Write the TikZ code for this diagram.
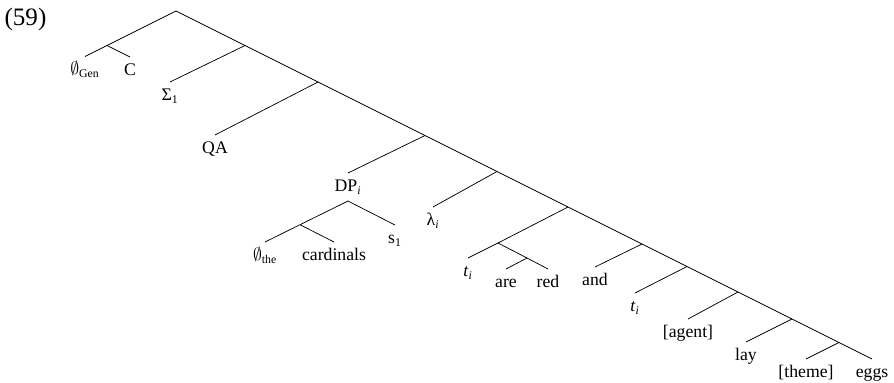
\documentclass[tikz,border=0pt]{standalone}
\usepackage{amssymb}
\usepackage{fontspec}
\setmainfont{Liberation Serif}

\begin{document}
\begin{tikzpicture}[
    x=0.678pt, y=-0.678pt,
    leaf/.style={anchor=north, inner sep=0pt, outer sep=0pt, text height=12.5pt, text depth=6.5pt, font=\fontsize{12}{14}\selectfont},
    exnum/.style={anchor=base, inner sep=0pt, font=\fontsize{17}{20}\selectfont},
    branch/.style={draw=black, line width=0.5pt}
]
\useasboundingbox (0,0) rectangle (894,382);

% =============================================================
% Example number
% =============================================================
\node[exnum] (num) at (25.5,25) {(59)};

% =============================================================
% Spine junctions (right branching, slope 1/2)
% =============================================================
\coordinate (n0) at (176,11);
\coordinate (n1) at (245,45.5);
\coordinate (n2) at (318,82);
\coordinate (n3) at (425,135.5);
\coordinate (n4) at (497,171.5);
\coordinate (n5) at (568,207);
\coordinate (n6) at (642,244);
\coordinate (n7) at (687,266.5);
\coordinate (n8) at (738,292);
\coordinate (n9) at (792,319);
\coordinate (n10) at (839,342.5);

% Inner junctions of the left subtrees
\coordinate (gc) at (107,45.5);
\coordinate (dpc) at (300,224.7);
\coordinate (tr) at (498,243);
\coordinate (ar) at (527,258);

% =============================================================
% Labels
% =============================================================
\node[leaf] (gen) at (85,56.5) {$\emptyset$\textsubscript{Gen}};
\node[leaf] (comp) at (130,57) {C};
\node[leaf] (sig) at (170,82) {Σ\textsubscript{1}};
\node[leaf] (qa) at (215,135) {QA};
\node[leaf] (dp) at (348,173) {DP\textsubscript{\textit{i}}};
\node[leaf] (the) at (265,242) {$\emptyset$\textsubscript{the}};
\node[leaf] (card) at (334,242) {cardinals};
\node[leaf] (sone) at (395,225) {s\textsubscript{1}};
\node[leaf] (lam) at (433,207) {λ\textsubscript{\textit{i}}};
\node[leaf] (tone) at (468,258) {\textit{t}\textsubscript{\textit{i}}};
\node[leaf] (are) at (506,269) {are};
\node[leaf] (red) at (548,269) {red};
\node[leaf] (and) at (595,267) {and};
\node[leaf] (ttwo) at (635,293) {\textit{t}\textsubscript{\textit{i}}};
\node[leaf] (agent) at (688,319) {[agent]};
\node[leaf] (lay) at (746,342) {lay};
\node[leaf] (theme) at (806,359) {[theme]};
\node[leaf] (eggs) at (872,359) {eggs};

% =============================================================
% Branches
% =============================================================
\draw[branch] (n0) -- (n1) -- (n2) -- (n3) -- (n4) -- (n5) -- (n6) -- (n7) -- (n8) -- (n9) -- (n10) -- (eggs.north);

\draw[branch] (n0) -- (gc) -- (gen.north);
\draw[branch] (gc) -- (comp.north);
\draw[branch] (n1) -- (sig.north);
\draw[branch] (n2) -- (qa.north);
\draw[branch] (n3) -- (dp.north);
\draw[branch] (dp.south) -- (dpc) -- (the.north);
\draw[branch] (dpc) -- (card.north);
\draw[branch] (dp.south) -- (sone.north);
\draw[branch] (n4) -- (lam.north);
\draw[branch] (n5) -- (tr) -- (tone.north);
\draw[branch] (tr) -- (ar) -- (red.north);
\draw[branch] (ar) -- (are.north);
\draw[branch] (n6) -- (and.north);
\draw[branch] (n7) -- (ttwo.north);
\draw[branch] (n8) -- (agent.north);
\draw[branch] (n9) -- (lay.north);
\draw[branch] (n10) -- (theme.north);

\end{tikzpicture}
\end{document}
